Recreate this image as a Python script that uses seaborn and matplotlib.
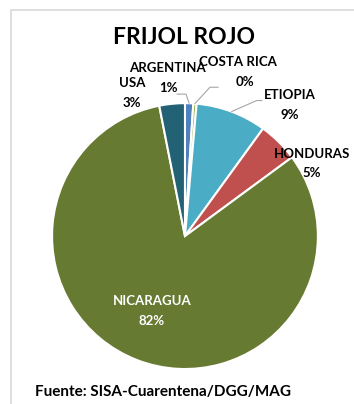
import numpy as np
import matplotlib
matplotlib.use("Agg")
import matplotlib.pyplot as plt
from matplotlib.lines import Line2D
import seaborn as sns

# data
countries = ["ARGENTINA", "COSTA RICA", "ETIOPIA", "HONDURAS", "NICARAGUA", "USA"]
shares = [1.0, 0.4, 8.6, 4.9, 82.0, 3.1]
colors = ["#4F81BD", "#9BBB59", "#4BACC6", "#C0504D", "#677A32", "#236174"]
title = "FRIJOL ROJO"
source = "Fuente: SISA-Cuarentena/DGG/MAG"

# label placement (axes data coords, pie radius = 1): name centre, pct centre
label_pos = {
    "ARGENTINA": [(-0.135, 1.263), (-0.128, 1.113)],
    "COSTA RICA": [(0.40, 1.31), (0.45, 1.16)],
    "ETIOPIA": [(0.79, 1.06), (0.79, 0.91)],
    "HONDURAS": [(0.955, 0.62), (0.955, 0.475)],
    "NICARAGUA": [(-0.248, -0.49), (-0.248, -0.64)],
    "USA": [(-0.40, 1.15), (-0.40, 1.0)],
}
# leader lines: elbow point and line end near label
leaders = {
    "ARGENTINA": [(0.008, 1.068), (-0.06, 1.068)],
    "COSTA RICA": [(0.188, 1.12), (0.25, 1.12)],
    "ETIOPIA": [(0.54, 1.02), (0.58, 1.02)],
}

sns.set_theme(style="white")
plt.rcParams["font.family"] = ["Lato", "DejaVu Sans"]

fig = plt.figure(figsize=(3.54, 4.04), dpi=100)
ax = fig.add_axes([0.147, 0.0866, 0.751, 0.658])

wedges, _ = ax.pie(shares, colors=colors, startangle=90, counterclock=False,
                   wedgeprops=dict(edgecolor="white", linewidth=1.5))
ax.set_xlim(-1, 1)
ax.set_ylim(-1, 1)
ax.set_aspect("equal")
ax.axis("off")

for w, name, val in zip(wedges, countries, shares):
    col = "white" if name == "NICARAGUA" else "black"
    (nx, ny), (px, py) = label_pos[name]
    ax.text(nx, ny, name, ha="center", va="center", fontsize=9.5,
            fontweight="bold", color=col, clip_on=False)
    ax.text(px, py, f"{val:.0f}%", ha="center", va="center", fontsize=9.5,
            fontweight="bold", color=col, clip_on=False)
    if name in leaders:
        mid = np.deg2rad((w.theta1 + w.theta2) / 2)
        pts = [(np.cos(mid), np.sin(mid))] + leaders[name]
        xs, ys = zip(*pts)
        ax.plot(xs, ys, color="#A6A6A6", lw=0.8, clip_on=False)

fig.text(184 / 354, 1 - 38 / 404, title, ha="center", va="center",
         fontsize=16.5, fontweight="bold", color="black")
fig.text(35 / 354, 1 - 392 / 404, source, ha="left", va="center",
         fontsize=11, fontweight="bold", color="black")

# chart frame
fig.add_artist(Line2D([11 / 354, 11 / 354], [0, 1 - 10 / 404],
                      transform=fig.transFigure, color="#D9D9D9", lw=1.2))
fig.add_artist(Line2D([11 / 354, 1], [1 - 10 / 404, 1 - 10 / 404],
                      transform=fig.transFigure, color="#D9D9D9", lw=1.2))

fig.savefig("out.png", dpi=100)
